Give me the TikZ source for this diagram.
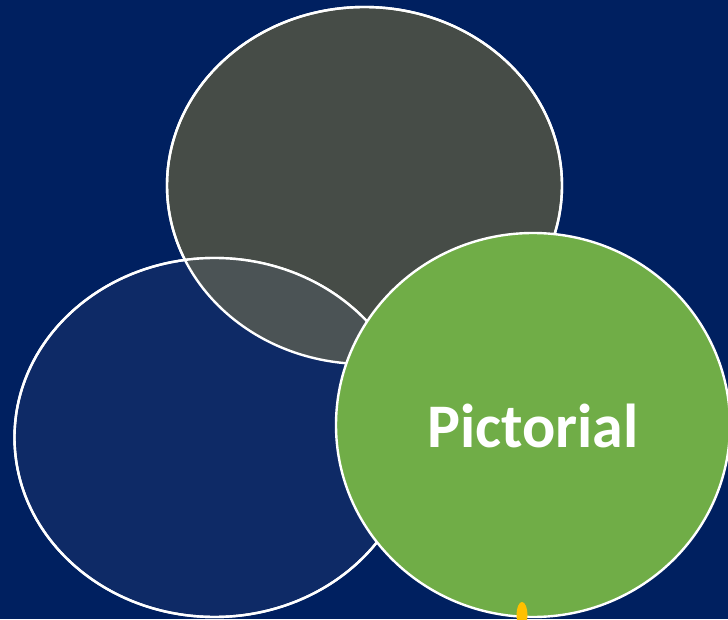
\documentclass[tikz,border=0pt]{standalone}
\usepackage{fontspec}
\setmainfont{Carlito}
\usetikzlibrary{shapes.geometric}
\definecolor{bgnavy}{HTML}{002060}
\definecolor{slate}{HTML}{464C47}
\definecolor{deepblue}{HTML}{0E2A66}
\definecolor{overlap}{HTML}{4B5355}
\definecolor{leaf}{HTML}{70AD47}
\definecolor{amber}{HTML}{FFC000}
\tikzset{
  bubble/.style={ellipse, draw=white, line width=2.4pt, inner sep=0pt, outer sep=0pt},
}
\begin{document}
\begin{tikzpicture}[x=1pt,y=1pt]
  % canvas
  \fill[bgnavy] (0,0) rectangle (728,619);
  \useasboundingbox (0,0) rectangle (728,619);

  % upper and lower-left ellipses
  \node[bubble, fill=slate, minimum width=395pt, minimum height=357pt] (top) at (364.5,433.5) {};
  \node[bubble, fill=deepblue, minimum width=400pt, minimum height=359pt] (left) at (214.5,181.5) {};

  % their common part, lighter
  \begin{scope}
    \clip (364.5,433.5) ellipse [x radius=197.5, y radius=178.5];
    \fill[overlap] (214.5,181.5) ellipse [x radius=200, y radius=179.5];
  \end{scope}
  \draw[white, line width=2.4pt] (364.5,433.5) ellipse [x radius=197.5, y radius=178.5];
  \draw[white, line width=2.4pt] (214.5,181.5) ellipse [x radius=200, y radius=179.5];

  % front circle with its label
  \node[bubble, fill=leaf, minimum width=394pt, minimum height=384pt] (pic) at (533,194) {};
  \node[text=white, font=\bfseries\fontsize{62}{70}\selectfont] (lbl) at (533,193) {Pictorial};

  % small marker at the bottom edge of the circle
  \fill[amber] (522,4) ellipse [x radius=5.5, y radius=13];
\end{tikzpicture}
\end{document}
